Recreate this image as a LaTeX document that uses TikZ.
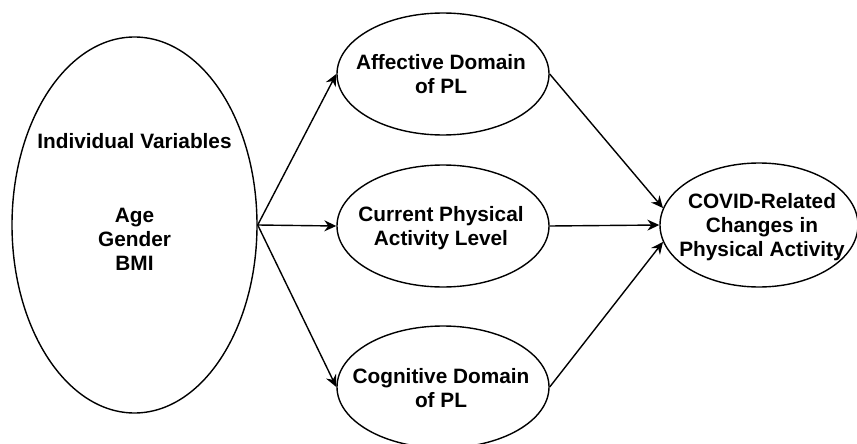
\documentclass[tikz,border=0pt]{standalone}
\usepackage{fontspec}
\setmainfont{Liberation Sans}
\usetikzlibrary{shapes.geometric,arrows.meta}
\begin{document}
\begin{tikzpicture}[x=1pt,y=-1pt,
  ell/.style={draw, ellipse, line width=1.4pt, inner sep=0pt},
  lbl/.style={font=\bfseries\fontsize{20.8}{24}\selectfont, align=center, anchor=base, inner sep=0pt},
  conn/.style={line width=1.4pt, -{Stealth[length=12pt,width=11pt,inset=4pt]}}]
\useasboundingbox[fill=white] (0,0) rectangle (857,444);
\clip (0,0) rectangle (857,444);
% ellipses
\node[ell, minimum width=245pt, minimum height=376pt] (L) at (134.5,225) {};
\node[ell, minimum width=212pt, minimum height=122pt] (A) at (443,74) {};
\node[ell, minimum width=212pt, minimum height=122pt] (C) at (443,226) {};
\node[ell, minimum width=212pt, minimum height=122pt] (G) at (443,387) {};
\node[ell, minimum width=198pt, minimum height=124pt] (R) at (759,225) {};
% texts (anchor=base is the last line's baseline)
\node[lbl] (Lt) at (134.5,148) {Individual Variables};
\node[lbl] (Lv) at (134.5,270) {Age\\Gender\\BMI};
\node[lbl] (At) at (441,93) {Affective Domain\\of PL};
\node[lbl] (Ct) at (441,245) {Current Physical\\Activity Level};
\node[lbl] (Gt) at (441,407) {Cognitive Domain\\of PL};
\node[lbl] (Rt) at (762,256) {COVID-Related\\Changes in\\Physical Activity};
% connectors
\draw[conn] (L.east) -- (A.west);
\draw[conn] (L.east) -- (C.west);
\draw[conn] (L.east) -- (G.west);
\draw[conn] (A.east) -- (R.170);
\draw[conn] (C.east) -- (R.west);
\draw[conn] (G.east) -- (R.190);
\end{tikzpicture}
\end{document}
